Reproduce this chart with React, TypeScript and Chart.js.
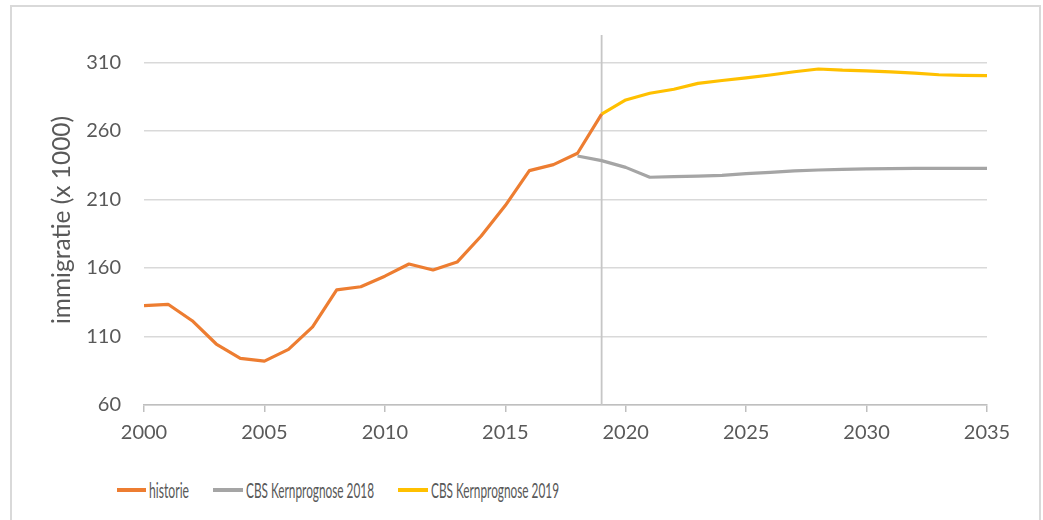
import React, { useEffect, useLayoutEffect, useRef } from 'react';
import { Chart, registerables } from 'chart.js';

Chart.register(...registerables);

// ---- data ----
const historyStart = 2000;
const historie = [132.5, 133.5, 121.5, 104.5, 94, 92, 100.6, 117, 144, 146.3, 154, 162.9, 158.5, 164.3, 183.3, 205.5, 231, 235.4, 243.7, 272.3];

const cbs2018Start = 2018;
const cbs2018 = [241.7, 238.3, 233.4, 226.2, 226.6, 227.0, 227.6, 228.8, 229.8, 230.8, 231.5, 232.0, 232.3, 232.5, 232.6, 232.6, 232.6, 232.6];

const cbs2019Start = 2019;
const cbs2019 = [272.3, 282.6, 287.5, 290.4, 294.7, 296.8, 298.7, 300.8, 303.2, 305.2, 304.3, 303.8, 303.1, 302.2, 301.0, 300.6, 300.3];

const seriesNames = ['historie', 'CBS Kernprognose 2018', 'CBS Kernprognose 2019'];
const seriesColors = ['#ED7D31', '#A5A5A5', '#FFC000'];

const yTicks = [60, 110, 160, 210, 260, 310];
const yMin = 60;
const yMax = 330;
const xMin = 2000;
const xMax = 2035;
const xStep = 5;
const markerYear = 2019;
const yTitle = 'immigratie (x 1000)';

const FONT = 'Lato, "Open Sans", "Liberation Sans", sans-serif';
const TEXT = '#595959';

const toPoints = (start: number, vals: number[]) => vals.map((v, i) => ({ x: start + i, y: v }));

export default function App() {
  const ref = useRef<HTMLCanvasElement | null>(null);
  const labelRefs = useRef<(HTMLSpanElement | null)[]>([]);

  const legendItems = [
    { x1: 117, x2: 146, tx: 149, tw: 40 },
    { x1: 213, x2: 243, tx: 246, tw: 128 },
    { x1: 398, x2: 428, tx: 431, tw: 128 },
  ];

  useLayoutEffect(() => {
    labelRefs.current.forEach((el, i) => {
      if (!el) return;
      const w = el.getBoundingClientRect().width;
      if (w > 0) el.style.transform = `scaleX(${legendItems[i].tw / w})`;
    });
  }, []);

  useEffect(() => {
    if (!ref.current) return;
    const chart = new Chart(ref.current, {
      type: 'line',
      data: {
        datasets: [
          { label: seriesNames[0], data: toPoints(historyStart, historie), borderColor: seriesColors[0], backgroundColor: seriesColors[0] },
          { label: seriesNames[1], data: toPoints(cbs2018Start, cbs2018), borderColor: seriesColors[1], backgroundColor: seriesColors[1] },
          { label: seriesNames[2], data: toPoints(cbs2019Start, cbs2019), borderColor: seriesColors[2], backgroundColor: seriesColors[2] },
          { label: 'marker', data: [{ x: markerYear, y: yMin }, { x: markerYear, y: yMax }], borderColor: '#c6c6c6', borderWidth: 1.8 },
        ],
      },
      options: {
        animation: false,
        responsive: false,
        maintainAspectRatio: false,
        layout: { padding: { top: 35, right: 56, bottom: 5, left: 0 } },
        plugins: { legend: { display: false }, tooltip: { enabled: false } },
        elements: {
          point: { radius: 0 },
          line: { tension: 0, borderWidth: 3.2, borderJoinStyle: 'round', borderCapStyle: 'butt' },
        },
        scales: {
          x: {
            type: 'linear',
            min: xMin,
            max: xMax,
            ticks: { stepSize: xStep, color: TEXT, font: { family: FONT, size: 20 }, padding: 9, callback: (v: any) => String(v), maxRotation: 0 },
            grid: { drawOnChartArea: false, drawTicks: true, tickLength: 7, color: '#bfbfbf', lineWidth: 1.5 },
            border: { display: true, color: '#bfbfbf', width: 1.5 },
            afterFit: (s: any) => { s.height = 50; },
          },
          y: {
            type: 'linear',
            min: yMin,
            max: yMax,
            afterBuildTicks: (s: any) => { s.ticks = yTicks.map((v) => ({ value: v })); },
            ticks: { color: TEXT, font: { family: FONT, size: 20 }, padding: 23, callback: (v: any) => String(v) },
            grid: { color: '#d9d9d9', lineWidth: 1.5, drawTicks: false },
            border: { display: false },
            title: { display: true, text: yTitle, color: TEXT, font: { family: FONT, size: 24.5 }, padding: { top: 47, bottom: 0 } },
            afterFit: (s: any) => { s.width = 144; },
          },
        },
      } as any,
    });
    return () => chart.destroy();
  }, []);

  return (
    <div style={{ position: 'fixed', left: 0, top: 0, width: 1043, height: 520, overflow: 'hidden', background: '#fff' }}>
      <div style={{ position: 'absolute', left: 10, top: 5, width: 1031, height: 540, border: '2px solid #d9d9d9', boxSizing: 'border-box' }} />
      <canvas ref={ref} width={1043} height={460} style={{ position: 'absolute', left: 0, top: 0, width: 1043, height: 460 }} />
      {legendItems.map((it, i) => (
        <React.Fragment key={i}>
          <div style={{ position: 'absolute', left: it.x1, top: 488, width: it.x2 - it.x1, height: 3.5, background: seriesColors[i] }} />
          <span
            ref={(el) => { labelRefs.current[i] = el; }}
            style={{
              position: 'absolute', left: it.tx, top: 477, fontFamily: FONT, fontSize: 21, lineHeight: '26px',
              color: TEXT, whiteSpace: 'nowrap', transformOrigin: 'left center', display: 'inline-block',
            }}
          >
            {seriesNames[i]}
          </span>
        </React.Fragment>
      ))}
    </div>
  );
}
